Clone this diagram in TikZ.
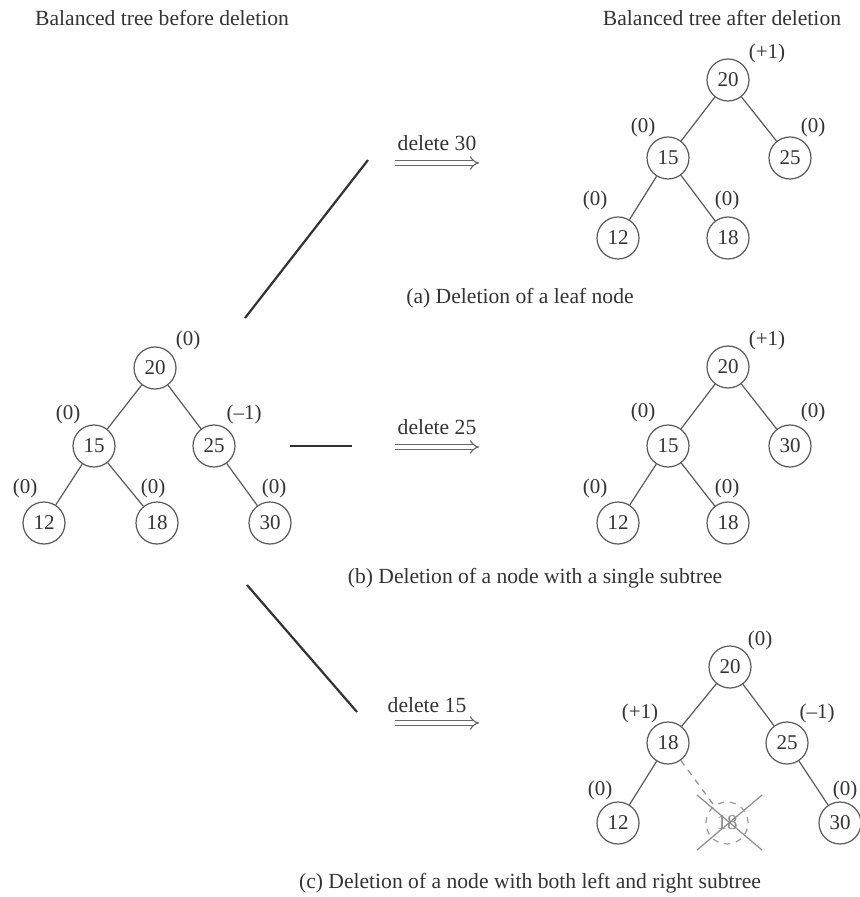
\documentclass[tikz,border=0pt]{standalone}
\usepackage{fontspec}
\setmainfont{Liberation Serif}
\usetikzlibrary{arrows.meta,positioning}

\begin{document}
\begin{tikzpicture}[x=0.5pt,y=-0.5pt]
\tikzset{
  treenode/.style={circle,draw=black!65,line width=0.6pt,minimum size=21pt,inner sep=0pt,font=\fontsize{10.5}{12}\selectfont,text=black!80},
  gonenode/.style={circle,draw=black!40,dashed,line width=0.6pt,minimum size=21pt,inner sep=0pt,font=\fontsize{10.5}{12}\selectfont,text=black!45},
  balance/.style={inner sep=0pt,font=\fontsize{10.5}{12}\selectfont,text=black!80},
  caption/.style={inner sep=0pt,font=\fontsize{10.8}{13}\selectfont,text=black!80},
  treeedge/.style={draw=black!65,line width=0.6pt},
  splitline/.style={draw=black!80,line width=1.1pt},
  implies/.style={double,double distance=1.8pt,draw=black!60,line width=0.55pt,-{Implies}}
}
\useasboundingbox (0,0) rectangle (859,897);
% titles
\node[caption] (t_before) at (162,18) {Balanced tree before deletion};
\node[caption] (t_after) at (722,18) {Balanced tree after deletion};
% tree before deletion
\node[treenode] (l20) at (155,368) {20};
\node[treenode] (l15) at (94,446) {15};
\node[treenode] (l25) at (214,446) {25};
\node[treenode] (l12) at (44,523) {12};
\node[treenode] (l18) at (157,523) {18};
\node[treenode] (l30) at (270,523) {30};
\node[balance] (bl20) at (188,340) {(0)};
\node[balance] (bl15) at (68,414) {(0)};
\node[balance] (bl25) at (244,414) {(--1)};
\node[balance] (bl12) at (25,488) {(0)};
\node[balance] (bl18) at (153,488) {(0)};
\node[balance] (bl30) at (274,488) {(0)};
\draw[treeedge] (l20) -- (l15);
\draw[treeedge] (l20) -- (l25);
\draw[treeedge] (l15) -- (l12);
\draw[treeedge] (l15) -- (l18);
\draw[treeedge] (l25) -- (l30);
% the three cases
\coordinate (s1a) at (245,318);
\coordinate (s1b) at (368,160);
\coordinate (s2a) at (290,446);
\coordinate (s2b) at (352,446);
\coordinate (s3a) at (247,585);
\coordinate (s3b) at (357,712);
\draw[splitline] (s1a) -- (s1b);
\draw[splitline] (s2a) -- (s2b);
\draw[splitline] (s3a) -- (s3b);
\node[caption] (d30) at (437,143) {delete 30};
\node[caption] (d25) at (437,427) {delete 25};
\node[caption] (d15) at (427,705) {delete 15};
\coordinate (a1s) at (395,163);
\coordinate (a1e) at (479,163);
\coordinate (a2s) at (395,447);
\coordinate (a2e) at (479,447);
\coordinate (a3s) at (395,723);
\coordinate (a3e) at (479,723);
\draw[implies] (a1s) -- (a1e);
\draw[implies] (a2s) -- (a2e);
\draw[implies] (a3s) -- (a3e);
% (a) leaf node
\node[treenode] (a20) at (728,80) {20};
\node[treenode] (a15) at (668,158) {15};
\node[treenode] (a25) at (790,158) {25};
\node[treenode] (a12) at (618,238) {12};
\node[treenode] (a18) at (728,238) {18};
\node[balance] (ba20) at (767,53) {(+1)};
\node[balance] (ba15) at (643,127) {(0)};
\node[balance] (ba25) at (813,127) {(0)};
\node[balance] (ba12) at (595,200) {(0)};
\node[balance] (ba18) at (727,200) {(0)};
\draw[treeedge] (a20) -- (a15);
\draw[treeedge] (a20) -- (a25);
\draw[treeedge] (a15) -- (a12);
\draw[treeedge] (a15) -- (a18);
\node[caption] (capA) at (520,298) {(a) Deletion of a leaf node};
% (b) single subtree
\node[treenode] (b20) at (728,367) {20};
\node[treenode] (b15) at (668,446) {15};
\node[treenode] (b30) at (790,446) {30};
\node[treenode] (b12) at (618,523) {12};
\node[treenode] (b18) at (728,523) {18};
\node[balance] (bb20) at (767,340) {(+1)};
\node[balance] (bb15) at (643,412) {(0)};
\node[balance] (bb30) at (813,412) {(0)};
\node[balance] (bb12) at (595,488) {(0)};
\node[balance] (bb18) at (727,488) {(0)};
\draw[treeedge] (b20) -- (b15);
\draw[treeedge] (b20) -- (b30);
\draw[treeedge] (b15) -- (b12);
\draw[treeedge] (b15) -- (b18);
\node[caption] (capB) at (535,578) {(b) Deletion of a node with a single subtree};
% (c) both subtrees
\node[treenode] (c20) at (730,667) {20};
\node[treenode] (c18) at (668,743) {18};
\node[treenode] (c25) at (787,743) {25};
\node[treenode] (c12) at (618,823) {12};
\node[gonenode] (cx) at (727,823) {18};
\node[treenode] (c30) at (840,823) {30};
\node[balance] (bc20) at (760,640) {(0)};
\node[balance] (bc18) at (640,713) {(+1)};
\node[balance] (bc25) at (817,713) {(--1)};
\node[balance] (bc12) at (600,790) {(0)};
\node[balance] (bc30) at (845,790) {(0)};
\draw[treeedge] (c20) -- (c18);
\draw[treeedge] (c20) -- (c25);
\draw[treeedge] (c18) -- (c12);
\draw[treeedge] (c25) -- (c30);
\draw[treeedge,draw=black!45,dashed] (c18) -- (cx);
\coordinate (x1) at (697,795);
\coordinate (x2) at (762,850);
\coordinate (x3) at (762,795);
\coordinate (x4) at (697,850);
\draw[treeedge,draw=black!45] (x1) -- (x2);
\draw[treeedge,draw=black!45] (x3) -- (x4);
\node[caption] (capC) at (530,883) {(c) Deletion of a node with both left and right subtree};
\end{tikzpicture}
\end{document}
